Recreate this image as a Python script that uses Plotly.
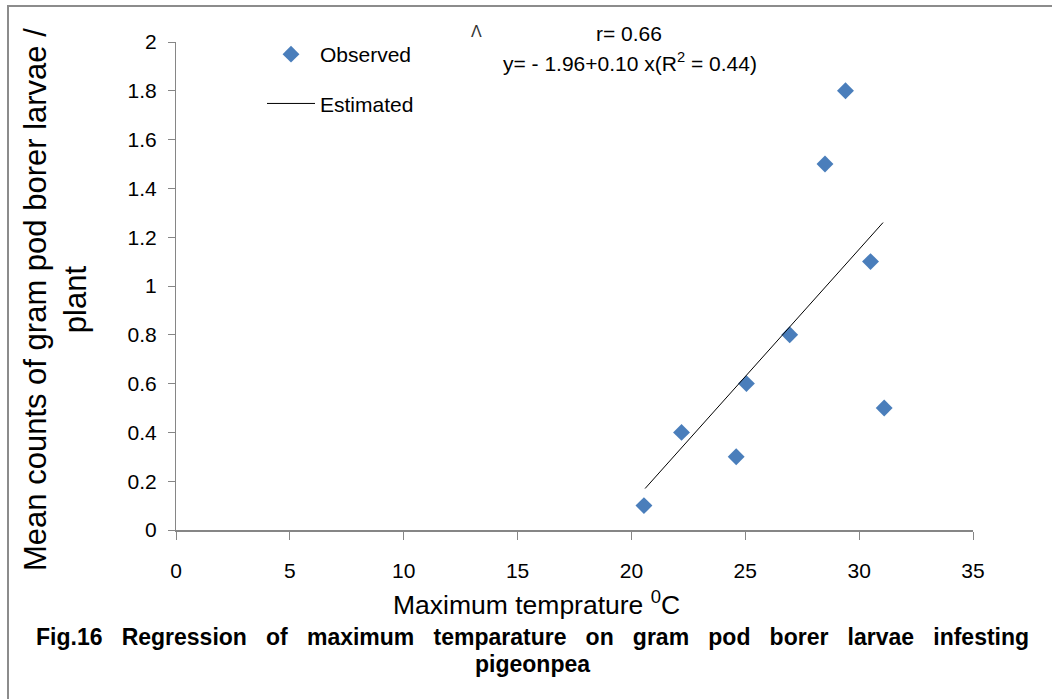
import plotly.graph_objects as go

# Observed data (max temperature °C, mean larvae/plant)
obs_x = [20.55, 22.2, 24.6, 25.05, 26.95, 28.5, 29.4, 30.5, 31.1]
obs_y = [0.10, 0.40, 0.30, 0.60, 0.80, 1.50, 1.80, 1.10, 0.50]

# Estimated regression line endpoints
est_x = [20.6, 31.05]
est_y = [0.17, 1.26]

x_ticks = [0, 5, 10, 15, 20, 25, 30, 35]
y_ticks = [0, 0.2, 0.4, 0.6, 0.8, 1, 1.2, 1.4, 1.6, 1.8, 2]
y_tick_labels = ["0", "0.2", "0.4", "0.6", "0.8", "1", "1.2", "1.4", "1.6", "1.8", "2"]

W, H = 1052, 699
L, R, T, B = 176, 79, 42, 169
pw, ph = W - L - R, H - T - B

def px(x):
    return (x - L) / pw

def py(y):
    return (H - B - y) / ph

fig = go.Figure()
fig.add_trace(go.Scatter(
    x=obs_x, y=obs_y, mode="markers", name="Observed",
    marker=dict(symbol="diamond", size=13, color="#4A7EBB"),
    legendgroup="a",
))
fig.add_trace(go.Scatter(
    x=est_x, y=est_y, mode="lines", name="Estimated",
    line=dict(color="black", width=1),
    legendgroup="b",
))

fig.update_layout(
    width=W, height=H,
    margin=dict(l=L, r=R, t=T, b=B),
    paper_bgcolor="white", plot_bgcolor="white",
    font=dict(family="Liberation Sans, Arial", color="black"),
    showlegend=True,
    legend=dict(
        x=px(262), y=py(34), xanchor="left", yanchor="top",
        font=dict(size=21, family="Liberation Sans, Arial"),
        bgcolor="rgba(0,0,0,0)", tracegroupgap=19,
        itemwidth=48,
    ),
    xaxis=dict(
        range=[0, 35], tickvals=x_ticks, showgrid=False, zeroline=False,
        showline=True, linecolor="#868686", linewidth=2,
        ticks="outside", ticklen=8, tickcolor="#868686", tickwidth=1,
        tickfont=dict(size=21), ticklabelstandoff=13, fixedrange=True,
    ),
    yaxis=dict(
        range=[0, 2], tickvals=y_ticks, ticktext=y_tick_labels,
        showgrid=False, zeroline=False,
        showline=True, linecolor="#868686", linewidth=1,
        ticks="outside", ticklen=7, tickcolor="#868686", tickwidth=1,
        tickfont=dict(size=21), ticklabelstandoff=7, fixedrange=True,
    ),
)

gap = "&nbsp;&nbsp;&nbsp;"
caption1 = gap.join("Fig.16 Regression of maximum temparature on gram pod borer larvae infesting".split(" "))
cap_font = dict(size=23, family="Liberation Sans, Arial")

annotations = [
    dict(text="Mean counts of gram pod borer larvae /<br>plant", x=px(55), y=py(300),
         textangle=-90, font=dict(size=31)),
    dict(text="Maximum temprature <sup>0</sup>C", x=px(536), y=py(603), font=dict(size=26.5)),
    dict(text="<b>" + caption1 + "</b>", x=px(532), y=py(637), font=cap_font),
    dict(text="<b>pigeonpea</b>", x=px(532), y=py(664), font=cap_font),
    dict(text="Λ", x=px(476), y=py(31), font=dict(size=16, color="#333333")),
    dict(text="r= 0.66", x=px(629), y=py(33), font=dict(size=21)),
    dict(text="y= - 1.96+0.10 x(R<sup>2</sup> = 0.44)", x=px(630), y=py(62), font=dict(size=21)),
]
for a in annotations:
    a.update(xref="paper", yref="paper", showarrow=False, xanchor="center", yanchor="middle")
fig.update_layout(annotations=annotations)

fig.update_layout(shapes=[
    dict(type="line", xref="paper", yref="paper", x0=px(7), x1=px(1052), y0=py(6), y1=py(6),
         line=dict(color="#8C8C8C", width=2)),
    dict(type="line", xref="paper", yref="paper", x0=px(8), x1=px(8), y0=py(5), y1=py(699),
         line=dict(color="#8C8C8C", width=2)),
])

fig.write_html("out.html", config={"displayModeBar": False},
               post_script="document.body.style.margin='0';")
